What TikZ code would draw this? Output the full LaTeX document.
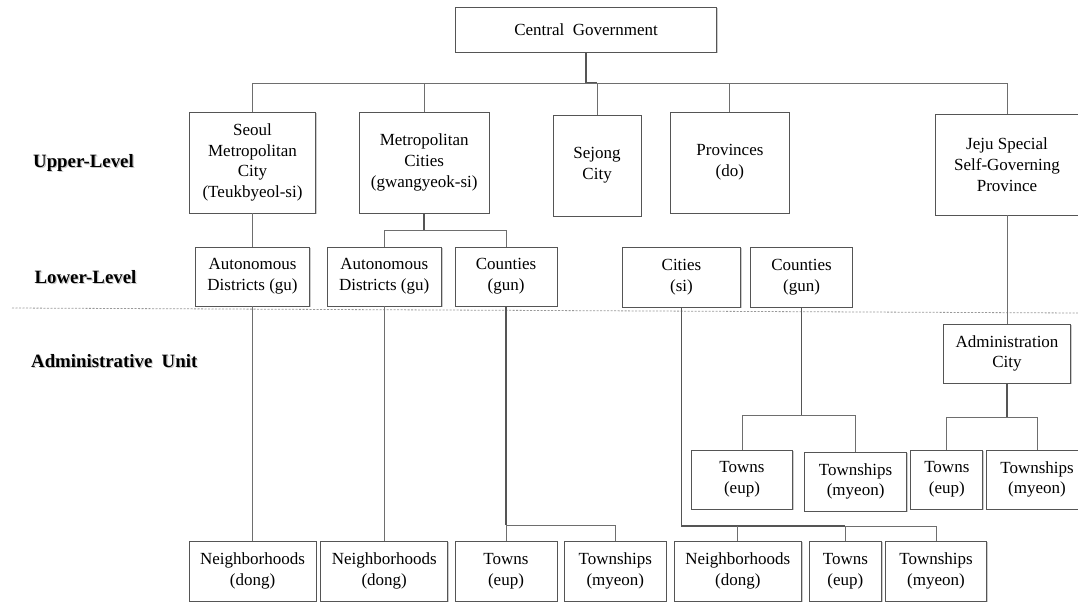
\documentclass[tikz,border=0pt]{standalone}
\usepackage{fontspec}
\setmainfont{Liberation Serif}
\usetikzlibrary{shadows}
\definecolor{boxgray}{HTML}{555555}
\definecolor{conngray}{HTML}{6E6E6E}
\definecolor{thickgray}{HTML}{555555}
\begin{document}
\begin{tikzpicture}[x=1pt,y=-1pt,
  box/.style={draw=boxgray, line width=0.95pt, fill=white, align=center, inner sep=0pt,
    font=\fontsize{17}{20.7}\selectfont,
    drop shadow={shadow xshift=1.2pt, shadow yshift=-1.2pt, opacity=0.2, fill=black}},
  conn/.style={draw=conngray, line width=1pt},
  thickconn/.style={draw=thickgray, line width=1.7pt},
  lvl/.style={anchor=west, inner sep=0pt, font=\fontsize{18.8}{22}\selectfont\bfseries},
  lvlshadow/.style={lvl, text=black!22},
  sep/.style={draw=gray!80, line width=0.8pt, dash pattern=on 2pt off 1.5pt}]
\useasboundingbox (0,0) rectangle (1078,602);

% level labels
\node[lvlshadow] (upS) at (34.2,164.2) {Upper-Level};
\node[lvl] (up) at (33,163) {Upper-Level};
\node[lvlshadow] (lowS) at (35.7,278.2) {Lower-Level};
\node[lvl] (low) at (34.5,277) {Lower-Level};
\node[lvlshadow] (admS) at (32.2,362.2) {Administrative\ \ Unit};
\node[lvl] (adm) at (31,361) {Administrative\ \ Unit};

% separator
\coordinate (dl) at (12,308);
\coordinate (dr) at (1078,313);
\draw[sep] (dl) -- (dr);

% top
\node[box, minimum width=261.5, minimum height=45] (cg) at (586,29.5) {Central\ \ Government};

% upper level
\node[box, minimum width=126.4, minimum height=101] (seoul) at (252.5,162.5) {Seoul\\Metropolitan\\City\\(Teukbyeol-si)};
\node[box, minimum width=130.1, minimum height=101] (metro) at (424.2,162.5) {Metropolitan\\Cities\\(gwangyeok-si)};
\node[box, minimum width=88.2, minimum height=101] (sejong) at (597.1,165.5) {Sejong\\City};
\node[box, minimum width=118.4, minimum height=101] (prov) at (729.9,162.5) {Provinces\\(do)};
\node[box, minimum width=142.6, minimum height=101] (jeju) at (1007,164.5) {Jeju Special\\Self-Governing\\Province};

% lower level
\node[box, minimum width=113.7, minimum height=59] (sad) at (252.5,276.5) {Autonomous\\Districts (gu)};
\node[box, minimum width=114.4, minimum height=59] (mad) at (384.2,276.5) {Autonomous\\Districts (gu)};
\node[box, minimum width=102, minimum height=59] (mco) at (506,276.5) {Counties\\(gun)};
\node[box, minimum width=118.4, minimum height=60] (pci) at (681.5,277) {Cities\\(si)};
\node[box, minimum width=101.5, minimum height=60] (pco) at (801.5,277) {Counties\\(gun)};

% administrative units
\node[box, minimum width=127, minimum height=59] (jadm) at (1007,353.5) {Administration\\City};
\node[box, minimum width=101.6, minimum height=59] (pcoT) at (742,479.5) {Towns\\(eup)};
\node[box, minimum width=102, minimum height=59] (pcoTS) at (855.6,481.5) {Townships\\(myeon)};
\node[box, minimum width=72, minimum height=59] (jT) at (946.8,479.5) {Towns\\(eup)};
\node[box, minimum width=101, minimum height=59] (jTS) at (1037,479.5) {Townships\\(myeon)};

\node[box, minimum width=127, minimum height=60] (sN) at (252.5,571) {Neighborhoods\\(dong)};
\node[box, minimum width=126.8, minimum height=60] (mN) at (384.2,571) {Neighborhoods\\(dong)};
\node[box, minimum width=102, minimum height=60] (mcoT) at (506,571) {Towns\\(eup)};
\node[box, minimum width=101.6, minimum height=60] (mcoTS) at (615.3,571) {Townships\\(myeon)};
\node[box, minimum width=127, minimum height=60] (pciN) at (737.8,571) {Neighborhoods\\(dong)};
\node[box, minimum width=72, minimum height=60] (pciT) at (845.4,571) {Towns\\(eup)};
\node[box, minimum width=101.6, minimum height=60] (pciTS) at (936,571) {Townships\\(myeon)};

% connectors: central government
\coordinate (bus) at (0,83);
\draw[thickconn] (cg.south) -- (cg.south |- bus) -- (sejong.north |- bus);
\draw[conn] (seoul.north |- bus) -- (jeju.north |- bus);
\foreach \n in {seoul,metro,sejong,prov,jeju}
  \draw[conn] (\n.north |- bus) -- (\n.north);

% Seoul
\draw[conn] (seoul.south) -- (sad.north);
\draw[conn] (sad.south) -- (sN.north);

% Metropolitan cities
\coordinate (mbus) at (0,230);
\draw[thickconn] (metro.south) -- (metro.south |- mbus);
\draw[conn] (mad.north |- mbus) -- (mco.north |- mbus);
\draw[conn] (mad.north |- mbus) -- (mad.north);
\draw[conn] (mco.north |- mbus) -- (mco.north);
\draw[conn] (mad.south) -- (mN.north);
\coordinate (mcobus) at (0,525);
\draw[thickconn] (mco.south) -- (mco.south |- mcobus);
\draw[conn] (mcoT.north |- mcobus) -- (mcoTS.north |- mcobus);
\draw[conn] (mcoT.north |- mcobus) -- (mcoT.north);
\draw[conn] (mcoTS.north |- mcobus) -- (mcoTS.north);

% Provinces: cities
\coordinate (pcibus) at (0,526);
\draw[thickconn] (pci.south) -- (pci.south |- pcibus) -- (pciT.north |- pcibus);
\draw[conn] (pciT.north |- pcibus) -- (pciTS.north |- pcibus);
\foreach \n in {pciN,pciT,pciTS}
  \draw[conn] (\n.north |- pcibus) -- (\n.north);

% Provinces: counties
\coordinate (pcobus) at (0,415.5);
\draw[thickconn] (pco.south) -- (pco.south |- pcobus);
\draw[conn] (pcoT.north |- pcobus) -- (pcoTS.north |- pcobus);
\draw[conn] (pcoT.north |- pcobus) -- (pcoT.north);
\draw[conn] (pcoTS.north |- pcobus) -- (pcoTS.north);

% Jeju
\draw[conn] (jeju.south) -- (jadm.north);
\coordinate (jbus) at (0,417);
\draw[thickconn] (jadm.south) -- (jadm.south |- jbus);
\draw[conn] (jT.north |- jbus) -- (jTS.north |- jbus);
\draw[conn] (jT.north |- jbus) -- (jT.north);
\draw[conn] (jTS.north |- jbus) -- (jTS.north);
\end{tikzpicture}
\end{document}
